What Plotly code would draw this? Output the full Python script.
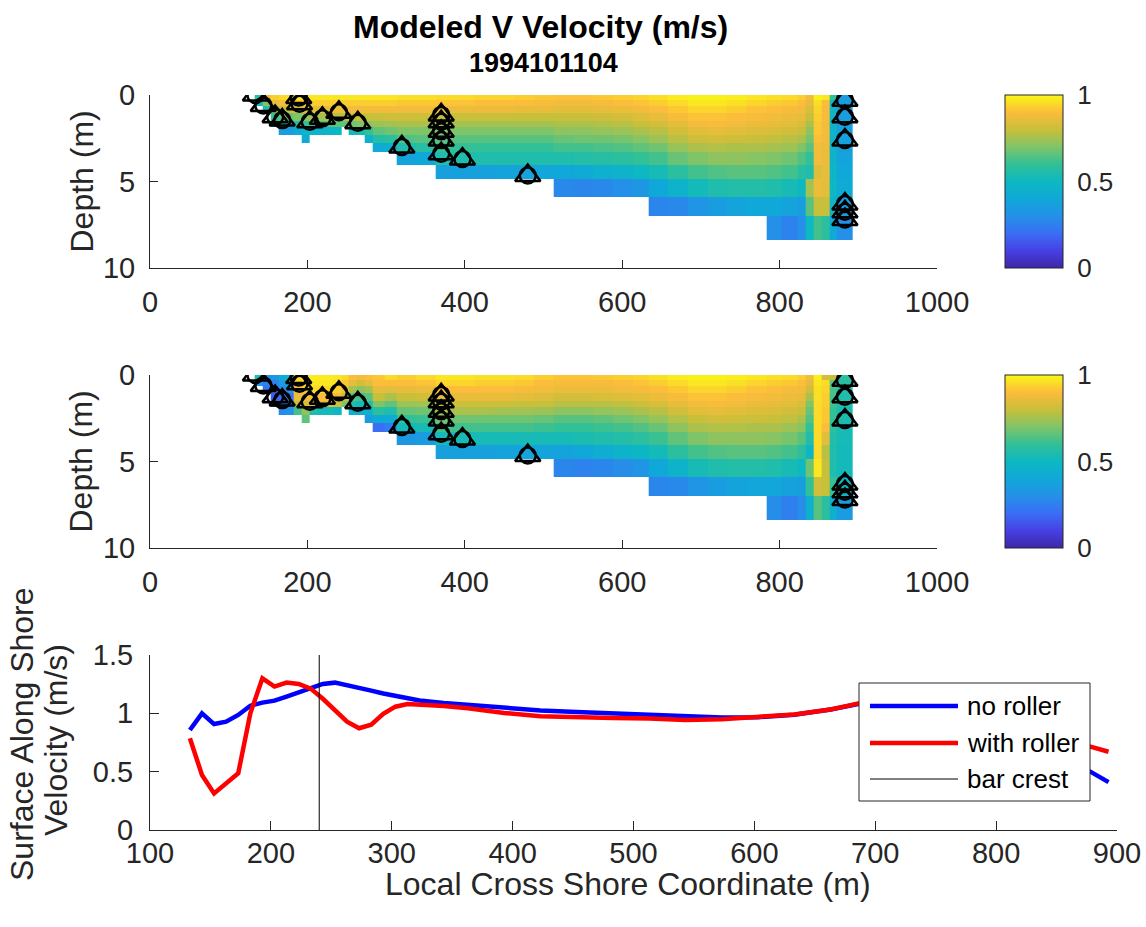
import numpy as np
import plotly.graph_objects as go

# ---------------------------------------------------------------- grid
# cell edges of the model grid: cross-shore (m) and depth (m)
x_edges = [133, 143, 153, 163, 173, 183, 193, 203, 213, 223, 233, 243, 253, 263,
           273, 283, 298, 313, 338, 363, 388, 413, 438, 463, 488, 513, 538, 563,
           588, 613, 633, 658, 683, 708, 733, 758, 783, 803, 823, 833, 843, 853,
           863, 873, 893]
depth_edges = [0, 0.3, 0.65, 1.05, 1.5, 1.85, 2.3, 2.8, 3.3, 4.05, 4.85, 5.9, 7.0, 8.4]

# normalised V velocity, one list per grid column, surface -> bottom
v_no_roller = [
    [0.58, 0.50],
    [0.86, 0.70, 0.56],
    [0.93, 0.86, 0.74, 0.60, 0.46],
    [0.95, 0.89, 0.79, 0.66, 0.50, 0.36],
    [0.96, 0.90, 0.80, 0.68, 0.52, 0.36],
    [0.97, 0.92, 0.82, 0.70, 0.56, 0.42],
    [0.97, 0.92, 0.84, 0.72, 0.60, 0.48, 0.41],
    [0.97, 0.93, 0.85, 0.74, 0.61, 0.46],
    [0.97, 0.93, 0.86, 0.75, 0.62, 0.47],
    [0.97, 0.93, 0.87, 0.77, 0.64, 0.48],
    [0.97, 0.93, 0.87, 0.78, 0.66, 0.50],
    [0.97, 0.93, 0.88, 0.78, 0.66],
    [0.97, 0.93, 0.88, 0.79, 0.68, 0.52],
    [0.97, 0.93, 0.88, 0.80, 0.70, 0.53],
    [0.97, 0.93, 0.88, 0.80, 0.72, 0.60, 0.46],
    [0.97, 0.93, 0.88, 0.80, 0.74, 0.66, 0.56, 0.42],
    [0.97, 0.93, 0.88, 0.81, 0.75, 0.68, 0.58, 0.43],
    [0.96, 0.92, 0.88, 0.81, 0.76, 0.70, 0.64, 0.55, 0.38],
    [0.96, 0.92, 0.88, 0.81, 0.76, 0.70, 0.65, 0.57, 0.40],
    [0.95, 0.91, 0.87, 0.80, 0.75, 0.70, 0.65, 0.60, 0.55, 0.37],
    [0.95, 0.91, 0.87, 0.80, 0.75, 0.70, 0.65, 0.60, 0.55, 0.37],
    [0.94, 0.90, 0.87, 0.80, 0.75, 0.70, 0.65, 0.60, 0.55, 0.37],
    [0.94, 0.90, 0.87, 0.80, 0.75, 0.70, 0.65, 0.60, 0.55, 0.38],
    [0.93, 0.90, 0.86, 0.80, 0.75, 0.70, 0.65, 0.60, 0.55, 0.38],
    [0.92, 0.89, 0.86, 0.80, 0.75, 0.70, 0.65, 0.60, 0.55, 0.39],
    [0.91, 0.88, 0.85, 0.80, 0.76, 0.72, 0.67, 0.62, 0.55, 0.40, 0.28],
    [0.91, 0.88, 0.85, 0.80, 0.76, 0.72, 0.68, 0.62, 0.56, 0.42, 0.27],
    [0.92, 0.89, 0.86, 0.81, 0.77, 0.73, 0.68, 0.63, 0.57, 0.45, 0.28],
    [0.93, 0.90, 0.87, 0.82, 0.78, 0.74, 0.69, 0.64, 0.58, 0.47, 0.30],
    [0.94, 0.91, 0.88, 0.84, 0.80, 0.76, 0.71, 0.66, 0.60, 0.50, 0.33],
    [0.96, 0.93, 0.90, 0.86, 0.82, 0.78, 0.74, 0.68, 0.62, 0.53, 0.40, 0.27],
    [0.98, 0.95, 0.92, 0.89, 0.85, 0.82, 0.78, 0.73, 0.67, 0.58, 0.46, 0.28],
    [0.99, 0.97, 0.94, 0.91, 0.88, 0.85, 0.81, 0.76, 0.70, 0.62, 0.52, 0.32],
    [0.99, 0.97, 0.94, 0.91, 0.89, 0.86, 0.82, 0.77, 0.72, 0.64, 0.55, 0.35],
    [0.98, 0.96, 0.93, 0.90, 0.88, 0.85, 0.81, 0.76, 0.72, 0.65, 0.56, 0.38],
    [0.97, 0.94, 0.91, 0.89, 0.87, 0.84, 0.80, 0.76, 0.71, 0.65, 0.56, 0.40],
    [0.96, 0.93, 0.90, 0.88, 0.86, 0.83, 0.79, 0.75, 0.70, 0.64, 0.55, 0.40, 0.30],
    [0.95, 0.92, 0.89, 0.87, 0.85, 0.82, 0.78, 0.74, 0.68, 0.62, 0.53, 0.38, 0.26],
    [0.93, 0.90, 0.88, 0.86, 0.83, 0.80, 0.76, 0.70, 0.64, 0.57, 0.50, 0.36, 0.30],
    [0.88, 0.86, 0.83, 0.80, 0.76, 0.72, 0.69, 0.65, 0.60, 0.55, 0.75, 0.65, 0.50],
    [0.99, 0.96, 0.94, 0.93, 0.92, 0.92, 0.90, 0.88, 0.88, 0.84, 0.87, 0.80, 0.62],
    [0.97, 0.90, 0.89, 0.89, 0.88, 0.88, 0.88, 0.87, 0.87, 0.86, 0.85, 0.80, 0.58],
    [0.60, 0.50, 0.48, 0.48, 0.47, 0.47, 0.47, 0.47, 0.47, 0.48, 0.50, 0.47, 0.42],
    [0.36, 0.36, 0.36, 0.36, 0.36, 0.37, 0.37, 0.37, 0.38, 0.40, 0.42, 0.36, 0.30],
]

v_with_roller = [
    [0.55, 0.35],
    [0.30, 0.25, 0.22],
    [0.33, 0.26, 0.20, 0.16, 0.20],
    [0.42, 0.35, 0.28, 0.20, 0.20, 0.28],
    [0.45, 0.38, 0.30, 0.22, 0.22, 0.30],
    [0.95, 0.93, 0.90, 0.87, 0.80, 0.62],
    [0.97, 0.95, 0.92, 0.88, 0.82, 0.72, 0.66],
    [0.98, 0.97, 0.95, 0.90, 0.85, 0.55],
    [0.98, 0.97, 0.95, 0.90, 0.85, 0.52],
    [0.98, 0.97, 0.94, 0.89, 0.84, 0.52],
    [0.97, 0.96, 0.93, 0.88, 0.82, 0.50],
    [0.95, 0.92, 0.88, 0.80, 0.70],
    [0.90, 0.85, 0.75, 0.65, 0.55, 0.45],
    [0.88, 0.82, 0.72, 0.62, 0.52, 0.44],
    [0.90, 0.85, 0.75, 0.65, 0.55, 0.45, 0.35],
    [0.92, 0.90, 0.86, 0.80, 0.70, 0.58, 0.42, 0.20],
    [0.95, 0.90, 0.85, 0.76, 0.66, 0.55, 0.42, 0.24],
    [0.93, 0.90, 0.86, 0.80, 0.74, 0.67, 0.60, 0.52, 0.33],
    [0.95, 0.91, 0.87, 0.81, 0.75, 0.68, 0.61, 0.53, 0.35],
    [0.97, 0.94, 0.90, 0.86, 0.81, 0.76, 0.68, 0.62, 0.53, 0.37],
    [0.97, 0.94, 0.90, 0.86, 0.81, 0.76, 0.68, 0.62, 0.53, 0.37],
    [0.96, 0.93, 0.90, 0.86, 0.81, 0.76, 0.68, 0.62, 0.53, 0.37],
    [0.96, 0.93, 0.90, 0.86, 0.81, 0.75, 0.68, 0.62, 0.53, 0.38],
    [0.95, 0.92, 0.89, 0.85, 0.80, 0.75, 0.68, 0.62, 0.53, 0.38],
    [0.93, 0.90, 0.88, 0.84, 0.80, 0.74, 0.67, 0.61, 0.53, 0.38],
    [0.91, 0.89, 0.87, 0.82, 0.78, 0.72, 0.65, 0.60, 0.53, 0.38, 0.27],
    [0.91, 0.89, 0.87, 0.82, 0.78, 0.72, 0.65, 0.60, 0.54, 0.40, 0.26],
    [0.92, 0.89, 0.87, 0.83, 0.78, 0.73, 0.66, 0.61, 0.55, 0.43, 0.27],
    [0.93, 0.90, 0.88, 0.84, 0.79, 0.74, 0.68, 0.62, 0.56, 0.46, 0.29],
    [0.94, 0.91, 0.89, 0.85, 0.81, 0.76, 0.70, 0.64, 0.58, 0.49, 0.32],
    [0.96, 0.93, 0.90, 0.87, 0.83, 0.78, 0.73, 0.67, 0.61, 0.52, 0.40, 0.27],
    [0.98, 0.95, 0.92, 0.89, 0.86, 0.82, 0.77, 0.72, 0.66, 0.58, 0.47, 0.28],
    [0.99, 0.97, 0.94, 0.91, 0.88, 0.85, 0.80, 0.76, 0.70, 0.62, 0.53, 0.32],
    [0.99, 0.97, 0.94, 0.91, 0.89, 0.86, 0.82, 0.77, 0.72, 0.64, 0.55, 0.35],
    [0.98, 0.96, 0.93, 0.90, 0.88, 0.85, 0.81, 0.77, 0.72, 0.65, 0.56, 0.38],
    [0.97, 0.94, 0.91, 0.89, 0.87, 0.84, 0.81, 0.76, 0.72, 0.65, 0.56, 0.39],
    [0.96, 0.93, 0.90, 0.88, 0.86, 0.83, 0.80, 0.76, 0.71, 0.64, 0.55, 0.39, 0.29],
    [0.95, 0.92, 0.89, 0.87, 0.85, 0.82, 0.79, 0.74, 0.69, 0.62, 0.53, 0.37, 0.25],
    [0.93, 0.90, 0.88, 0.86, 0.83, 0.80, 0.76, 0.71, 0.65, 0.58, 0.50, 0.36, 0.29],
    [0.88, 0.85, 0.82, 0.76, 0.70, 0.67, 0.64, 0.60, 0.55, 0.48, 0.68, 0.60, 0.45],
    [0.99, 0.97, 0.96, 0.96, 0.95, 0.95, 0.95, 0.95, 0.95, 0.95, 0.97, 0.82, 0.65],
    [0.82, 0.95, 0.94, 0.93, 0.93, 0.92, 0.92, 0.90, 0.85, 0.78, 0.80, 0.80, 0.58],
    [0.80, 0.65, 0.63, 0.62, 0.62, 0.60, 0.60, 0.58, 0.56, 0.55, 0.55, 0.60, 0.45],
    [0.58, 0.57, 0.56, 0.55, 0.55, 0.54, 0.54, 0.53, 0.53, 0.52, 0.52, 0.50, 0.35],
]

# instrument locations
sensor_x = [134, 144, 159, 168, 189, 190, 203, 219, 240, 264, 320,
            370, 370, 370, 370, 370, 397, 480,
            883, 883, 883, 883, 883, 883]
sensor_depth = [0.0, 0.6, 1.25, 1.45, 0.15, 0.5, 1.55, 1.35, 1.0, 1.6, 3.0,
                1.15, 1.55, 2.1, 2.6, 3.4, 3.7, 4.65,
                0.3, 1.25, 2.6, 6.3, 6.75, 7.2]

# surface along-shore velocity profiles
profile_x = [133, 143, 153, 163, 173, 183, 193, 203, 213, 223, 233, 243, 253, 263,
             273, 283, 293, 303, 313, 323, 343, 363, 393, 423, 453, 483, 513, 543,
             573, 603, 633, 663, 693, 723, 753, 783, 813, 843, 863, 878, 893]
surf_no_roller = [0.857, 1.0, 0.908, 0.928, 0.986, 1.065, 1.092, 1.109, 1.143, 1.182,
                  1.222, 1.252, 1.263, 1.243, 1.222, 1.195, 1.17, 1.148, 1.128, 1.11,
                  1.088, 1.07, 1.045, 1.025, 1.012, 1.0, 0.988, 0.972, 0.965, 0.967,
                  0.987, 1.032, 1.095, 1.12, 1.11, 1.05, 0.93, 0.72, 0.56, 0.5, 0.41]
surf_with_roller = [0.786, 0.471, 0.314, 0.4, 0.486, 1.0, 1.3, 1.229, 1.264, 1.252,
                    1.212, 1.125, 1.03, 0.929, 0.872, 0.903, 0.995, 1.057, 1.079, 1.075,
                    1.062, 1.043, 1.003, 0.975, 0.965, 0.959, 0.955, 0.943, 0.95, 0.967,
                    0.99, 1.033, 1.1, 1.11, 1.08, 1.02, 0.93, 0.82, 0.75, 0.714, 0.671]
bar_crest_x = 240

# ---------------------------------------------------------------- styling
W, H = 1146, 927
FONT = "Liberation Sans, Arial, Helvetica, sans-serif"
INK = "#262626"
TICK_SIZE = 29
LABEL_SIZE = 32
SMALL_SIZE = 26

parula_like = [
    [0.00, "#3e26a8"], [0.10, "#4740e4"], [0.20, "#3a6ef5"], [0.30, "#2490e8"],
    [0.40, "#10a8d8"], [0.50, "#0db8c2"], [0.60, "#32c096"], [0.70, "#80c468"],
    [0.80, "#c8bf3a"], [0.90, "#fcbc3c"], [1.00, "#f9f815"],
]


def px_x(p):
    return p / W


def px_y(p):
    return 1 - p / H


def column_grid(cols):
    z = np.full((len(depth_edges) - 1, len(cols)), np.nan)
    for j, c in enumerate(cols):
        z[:len(c), j] = c
    return z


fig = go.Figure()

# two depth sections
for k, (vals, cax) in enumerate([(v_no_roller, "coloraxis"), (v_with_roller, "coloraxis2")]):
    xa = "x" if k == 0 else "x2"
    ya = "y" if k == 0 else "y2"
    fig.add_trace(go.Heatmap(x=x_edges, y=depth_edges, z=column_grid(vals),
                             coloraxis=cax, xaxis=xa, yaxis=ya, hoverinfo="skip"))
    fig.add_trace(go.Scatter(x=sensor_x, y=sensor_depth, mode="markers", xaxis=xa, yaxis=ya,
                             marker=dict(symbol="triangle-up-open", size=22, color="black",
                                         line=dict(width=2.5, color="black")),
                             showlegend=False, hoverinfo="skip"))
    fig.add_trace(go.Scatter(x=sensor_x, y=sensor_depth, mode="markers", xaxis=xa, yaxis=ya,
                             marker=dict(symbol="circle-open", size=16, color="black",
                                         line=dict(width=2.5, color="black")),
                             showlegend=False, hoverinfo="skip"))

# surface profiles
fig.add_trace(go.Scatter(x=profile_x, y=surf_no_roller, mode="lines", xaxis="x3", yaxis="y3",
                         line=dict(color="#0000ff", width=4.5), name="no roller",
                         showlegend=False))
fig.add_trace(go.Scatter(x=profile_x, y=surf_with_roller, mode="lines", xaxis="x3", yaxis="y3",
                         line=dict(color="#ff0000", width=4.5), name="with roller",
                         showlegend=False))
fig.add_trace(go.Scatter(x=[bar_crest_x, bar_crest_x], y=[0, 1.5], mode="lines",
                         xaxis="x3", yaxis="y3", line=dict(color="black", width=1),
                         name="bar crest", showlegend=False))

tick_font = dict(family=FONT, size=TICK_SIZE, color=INK)
common_axis = dict(showline=True, linecolor=INK, linewidth=1, ticks="inside",
                   tickcolor=INK, tickwidth=1, showgrid=False, zeroline=False,
                   tickfont=tick_font, mirror=False, automargin=False)

sec_x_dom = [px_x(150), px_x(937)]
fig.update_layout(
    xaxis=dict(domain=sec_x_dom, anchor="y", range=[0, 1000], tickvals=list(range(0, 1001, 200)),
               ticklen=8, ticklabelstandoff=8, **common_axis),
    yaxis=dict(domain=[px_y(268), px_y(95)], anchor="x", range=[10, 0], tickvals=[0, 5, 10],
               ticklen=8, ticklabelstandoff=8, **common_axis),
    xaxis2=dict(domain=sec_x_dom, anchor="y2", range=[0, 1000], tickvals=list(range(0, 1001, 200)),
                ticklen=8, ticklabelstandoff=8, **common_axis),
    yaxis2=dict(domain=[px_y(548), px_y(375)], anchor="x2", range=[10, 0], tickvals=[0, 5, 10],
                ticklen=8, ticklabelstandoff=8, **common_axis),
    xaxis3=dict(domain=[px_x(150), px_x(1117)], anchor="y3", range=[100, 900],
                tickvals=list(range(100, 901, 100)), ticklen=9, ticklabelstandoff=-3, **common_axis),
    yaxis3=dict(domain=[px_y(830), px_y(655)], anchor="x3", range=[0, 1.5],
                tickvals=[0, 0.5, 1, 1.5], ticktext=["0", "0.5", "1", "1.5"], ticklen=9,
                ticklabelstandoff=10, **common_axis),
)

cbar_common = dict(x=px_x(1005), xanchor="left", thickness=58, thicknessmode="pixels",
                   len=173, lenmode="pixels", yanchor="middle",
                   tickvals=[0, 0.5, 1], ticktext=["0", "0.5", "1"], ticks="outside",
                   ticklen=9, tickcolor="rgba(0,0,0,0)", outlinewidth=1, outlinecolor=INK,
                   tickfont=dict(family=FONT, size=SMALL_SIZE, color=INK), xpad=0, ypad=0)
fig.update_layout(
    coloraxis=dict(colorscale=parula_like, cmin=0, cmax=1,
                   colorbar=dict(y=px_y(181.5), **cbar_common)),
    coloraxis2=dict(colorscale=parula_like, cmin=0, cmax=1,
                    colorbar=dict(y=px_y(461.5), **cbar_common)),
)

ann = []
# titles
ann.append(dict(text="<b>Modeled V Velocity (m/s)</b>", x=px_x(540), y=px_y(27),
                font=dict(family=FONT, size=LABEL_SIZE, color="black")))
ann.append(dict(text="<b>1994101104</b>", x=px_x(543), y=px_y(63),
                font=dict(family=FONT, size=27, color="black")))
# axis titles
ann.append(dict(text="Depth (m)", x=px_x(81), y=px_y(181.5), textangle=-90,
                font=dict(family=FONT, size=LABEL_SIZE, color=INK)))
ann.append(dict(text="Depth (m)", x=px_x(81), y=px_y(461.5), textangle=-90,
                font=dict(family=FONT, size=LABEL_SIZE, color=INK)))
ann.append(dict(text="Surface Along Shore", x=px_x(22), y=px_y(734), textangle=-90,
                font=dict(family=FONT, size=LABEL_SIZE, color=INK)))
ann.append(dict(text="Velocity (m/s)", x=px_x(56), y=px_y(740), textangle=-90,
                font=dict(family=FONT, size=LABEL_SIZE, color=INK)))
ann.append(dict(text="Local Cross Shore Coordinate (m)", x=px_x(628), y=px_y(884),
                font=dict(family=FONT, size=LABEL_SIZE, color=INK)))

shapes = []
for cy in (181.5, 461.5):
    # small inside tick on the colour bar at 0.5
    shapes.append(dict(type="line", xref="paper", yref="paper", x0=px_x(1058), x1=px_x(1063),
                       y0=px_y(cy), y1=px_y(cy), line=dict(color=INK, width=1), layer="above"))
    # faint seam across the colour bar
    shapes.append(dict(type="line", xref="paper", yref="paper", x0=px_x(1006), x1=px_x(1062),
                       y0=px_y(cy + 86), y1=px_y(cy - 86),
                       line=dict(color="rgba(255,255,255,0.35)", width=1), layer="above"))

# legend box
leg_x0, leg_x1, leg_y0, leg_y1 = 859, 1090, 683, 801
shapes.append(dict(type="rect", xref="paper", yref="paper", x0=px_x(leg_x0), x1=px_x(leg_x1),
                   y0=px_y(leg_y1), y1=px_y(leg_y0), fillcolor="white",
                   line=dict(color=INK, width=1), layer="above"))
legend_items = [("no roller", "#0000ff", 4.5, 706), ("with roller", "#ff0000", 4.5, 743),
                ("bar crest", "black", 1, 779)]
for label, col, lw, yy in legend_items:
    shapes.append(dict(type="line", xref="paper", yref="paper", x0=px_x(870), x1=px_x(958),
                       y0=px_y(yy), y1=px_y(yy), line=dict(color=col, width=lw), layer="above"))
    ann.append(dict(text=label, x=px_x(965), y=px_y(yy), xanchor="left",
                    font=dict(family=FONT, size=SMALL_SIZE, color="black")))

for a in ann:
    a.setdefault("xref", "paper")
    a.setdefault("yref", "paper")
    a.setdefault("showarrow", False)
    a.setdefault("xanchor", "center")
    a.setdefault("yanchor", "middle")

fig.update_layout(width=W, height=H, margin=dict(l=0, r=0, t=0, b=0),
                  paper_bgcolor="white", plot_bgcolor="white",
                  annotations=ann, shapes=shapes, showlegend=False,
                  font=dict(family=FONT, color=INK))

fig.write_html("out.html")
